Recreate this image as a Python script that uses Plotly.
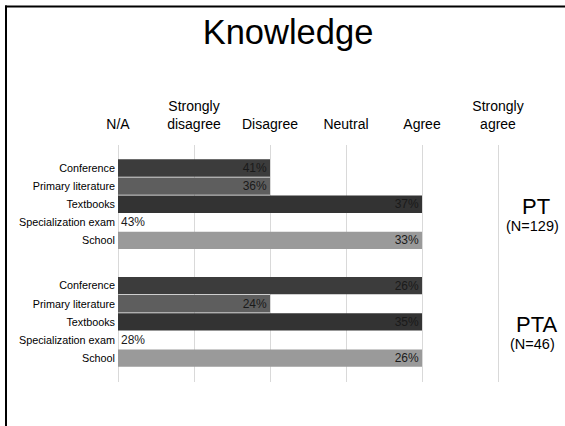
import plotly.graph_objects as go

# ---- data ----
scale_labels = ["N/A", "Strongly<br>disagree", "Disagree", "Neutral", "Agree", "Strongly<br>agree"]
sources = ["Conference", "Primary literature", "Textbooks", "Specialization exam", "School"]
source_colors = ["#3c3c3c", "#5e5e5e", "#333333", "#ffffff", "#9a9a9a"]

pt_level = [2, 2, 4, 0, 4]
pt_pct = [41, 36, 37, 43, 33]
pta_level = [4, 2, 4, 0, 4]
pta_pct = [26, 24, 35, 28, 26]

groups = [
    ("PT", "(N=129)", pt_level, pt_pct, 0.0),
    ("PTA", "(N=46)", pta_level, pta_pct, 6.5),
]

# ---- layout geometry ----
W, H = 565, 426
L, R, T, B = 118, 29, 145, 44
pw, ph = W - L - R, H - T - B


def px_x(px):
    return (px - L) / pw


def px_y(py):
    return (H - B - py) / ph


FONT = "Liberation Sans, Arial, sans-serif"

fig = go.Figure()
tickvals, ticktext = [], []
for name, n_text, levels, pcts, offset in groups:
    ys = [offset + i for i in range(len(sources))]
    tickvals += ys
    ticktext += sources
    fig.add_trace(go.Bar(
        y=ys,
        x=levels,
        orientation="h",
        width=0.96,
        marker=dict(color=source_colors, line=dict(width=0)),
        text=[f"{p}%" for p in pcts],
        textposition=["outside" if lv == 0 else "inside" for lv in levels],
        insidetextanchor="end",
        constraintext="none",
        textfont=dict(family=FONT, size=12, color="#1a1a1a"),
        cliponaxis=False,
        showlegend=False,
        hoverinfo="skip",
    ))
    mid = offset + 2
    fig.add_annotation(x=5.5, y=mid + 0.15, xref="x", yref="y", text=name,
                       showarrow=False, font=dict(family=FONT, size=22, color="#000"),
                       xanchor="center", yanchor="middle")
    fig.add_annotation(x=5.45, y=mid + 1.2, xref="x", yref="y", text=n_text,
                       showarrow=False, font=dict(family=FONT, size=14.5, color="#000"),
                       xanchor="center", yanchor="middle")

fig.update_layout(
    width=W, height=H,
    margin=dict(l=L, r=R, t=T, b=B),
    paper_bgcolor="white", plot_bgcolor="white",
    font=dict(family=FONT, color="#000"),
    title=dict(text="Knowledge", x=288 / W, xanchor="center",
               y=1 - 32 / H, yanchor="middle", yref="container",
               font=dict(family=FONT, size=34.5, color="#000")),
    bargap=0.04,
    shapes=[
        dict(type="line", xref="paper", yref="paper",
             x0=px_x(6), x1=px_x(6), y0=px_y(5.5), y1=px_y(430),
             line=dict(color="#000", width=2)),
        dict(type="line", xref="paper", yref="paper",
             x0=px_x(5), x1=px_x(570), y0=px_y(6.5), y1=px_y(6.5),
             line=dict(color="#000", width=2)),
    ],
)

fig.update_xaxes(
    side="top", range=[0, 5.5],
    tickvals=list(range(len(scale_labels))), ticktext=scale_labels,
    tickfont=dict(family=FONT, size=14, color="#000"),
    showgrid=True, gridcolor="#d9d9d9", gridwidth=1,
    zeroline=True, zerolinecolor="#d9d9d9", zerolinewidth=1,
    showline=False, ticks="", ticklabelstandoff=12,
    fixedrange=True,
)
fig.update_yaxes(
    range=[11.82, -1.27],
    tickvals=tickvals, ticktext=ticktext,
    tickfont=dict(family=FONT, size=10.8, color="#000"),
    showgrid=False, zeroline=False, showline=False, ticks="",
    ticklabelstandoff=2,
    fixedrange=True,
)

fig.write_html("out.html", config={"displayModeBar": False},
               post_script="document.body.style.margin='0px';")
